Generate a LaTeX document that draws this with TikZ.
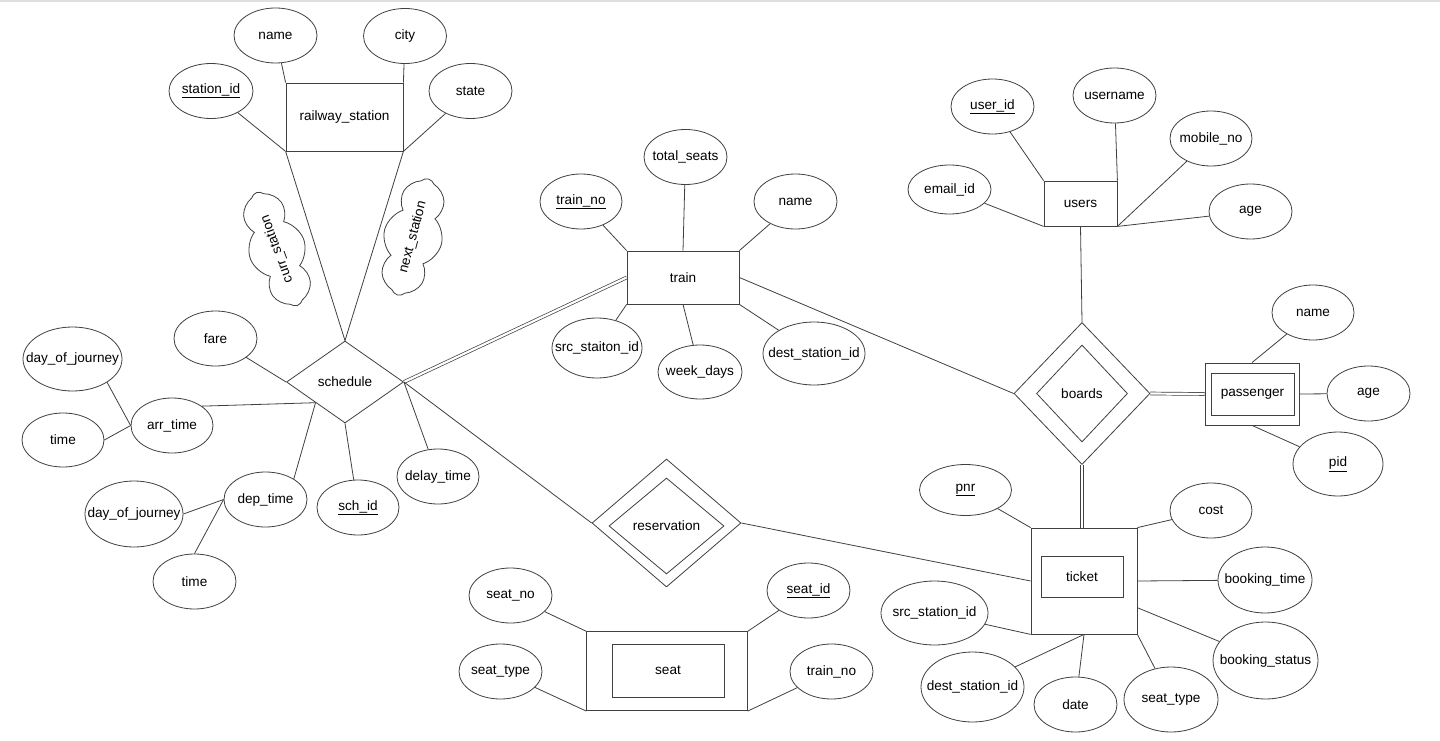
\documentclass[tikz,border=0pt]{standalone}
\usepackage{fontspec}
\setmainfont{Liberation Sans}
\usetikzlibrary{shapes.geometric,shapes.symbols,calc}
\newcommand{\zt}[1]{\makebox[0pt][c]{#1}}
\begin{document}
\begin{tikzpicture}[x=1pt,y=-1pt,
 every node/.style={font=\fontsize{13.6}{16}\selectfont, text=black},
 ln/.style={draw=black!75, line width=0.8pt},
 dbl/.style={draw=black!75, line width=0.7pt, double=white, double distance=2.2pt},
 attr/.style={ellipse, draw=black!75, line width=0.8pt, minimum width=83, minimum height=55, inner sep=0},
 ent/.style={rectangle, draw=black!75, line width=0.8pt, inner sep=0},
 rel/.style={diamond, draw=black!75, line width=0.8pt, inner sep=0},
 cl/.style={cloud, draw=black!75, line width=0.8pt, cloud puffs=8, cloud puff arc=115, aspect=2.6, inner sep=0, minimum width=120, minimum height=46}]
\useasboundingbox (0,0) rectangle (1440,741);
\fill[white] (0,0) rectangle (1440,741);
\draw[gray!25, line width=2pt] (0,1) -- (1440,1);

% railway station
\node[ent, minimum width=117, minimum height=68] (rs) at (344.5,117) {railway\_station};
\node[attr] (rsname) at (275.5,35.5) {\zt{name}};
\node[attr] (rscity) at (405,36) {\zt{city}};
\node[attr, minimum width=84] (rsid) at (211,91) {\zt{\underline{station\_id}}};
\node[attr] (rsstate) at (470.5,91) {\zt{state}};

% schedule
\node[rel, minimum width=117, minimum height=82] (sch) at (345,382) {schedule};
\coordinate (schLL) at ($(sch.west)!0.5!(sch.south)$);
\node[attr] (fare) at (215.5,338.5) {\zt{fare}};
\node[attr, minimum width=99, minimum height=64] (doj1) at (72.5,359) {\zt{day\_of\_journey}};
\node[attr, minimum width=82, minimum height=54] (time1) at (63,440) {\zt{time}};
\node[attr, minimum width=82] (arr) at (172,425.5) {\zt{arr\_time}};
\node[attr, minimum width=98, minimum height=66] (doj2) at (134,514) {\zt{day\_of\_journey}};
\node[attr] (dep) at (265.5,499.5) {\zt{dep\_time}};
\node[attr] (time2) at (194.5,581.5) {\zt{time}};
\node[attr, minimum width=82] (schid) at (358,507.5) {\zt{\underline{sch\_id}}};
\node[attr, minimum width=82] (delay) at (438,476.5) {\zt{delay\_time}};

% clouds
\node[cl, rotate=110] (curr) at (277,249) {curr\_station};
\node[cl, rotate=75] (next) at (413,237) {next\_station};

% train
\node[ent, minimum width=112, minimum height=53] (train) at (683,277.5) {train};
\node[attr] (tseats) at (685.5,157) {\zt{total\_seats}};
\node[attr, minimum width=82] (tno) at (581,201.5) {\zt{\underline{train\_no}}};
\node[attr] (tname) at (795.5,201.5) {\zt{name}};
\node[attr, minimum width=90, minimum height=60] (tsrc) at (597,348) {\zt{src\_staiton\_id}};
\node[attr, minimum width=84, minimum height=54] (twd) at (700,372) {\zt{week\_days}};
\node[attr, minimum width=102, minimum height=63] (tdest) at (814,353.5) {\zt{dest\_station\_id}};

% users
\node[ent, minimum width=73, minimum height=45] (users) at (1080.5,203.5) {users};
\node[attr] (uid) at (992.5,106.5) {\zt{\underline{user\_id}}};
\node[attr] (uname) at (1114.5,95.5) {\zt{username}};
\node[attr, minimum width=82] (umob) at (1211,138.5) {\zt{mobile\_no}};
\node[attr, minimum height=49] (uemail) at (949.5,189.5) {\zt{email\_id}};
\node[attr] (uage) at (1250.5,211.5) {\zt{age}};

% boards
\node[rel, minimum width=136, minimum height=142] (boards) at (1082,393.5) {};
\node[rel, minimum width=91, minimum height=97] (boardsin) at (1082,393.5) {boards};

% passenger
\node[ent, minimum width=94, minimum height=62] (pass) at (1252,394) {};
\node[ent, minimum width=83, minimum height=42] (passin) at (1252.5,394) {passenger};
\node[attr, minimum width=82] (pname) at (1313,312.5) {\zt{name}};
\node[attr] (page) at (1368.5,393.5) {\zt{age}};
\node[attr, minimum width=90, minimum height=64] (pid) at (1338,464) {\zt{\underline{pid}}};

% ticket
\node[ent, minimum width=106, minimum height=106] (tk) at (1084,581) {};
\node[ent, minimum width=82, minimum height=41] (tkin) at (1082,576.5) {ticket};
\node[attr, minimum width=92, minimum height=51] (pnr) at (965.5,490) {\zt{\underline{pnr}}};
\node[attr, minimum width=82] (cost) at (1211,510.5) {\zt{cost}};
\node[attr, minimum width=94, minimum height=66] (btime) at (1265,580) {\zt{booking\_time}};
\node[attr, minimum width=105, minimum height=77] (bstatus) at (1265.5,660.5) {\zt{booking\_status}};
\node[attr, minimum width=94, minimum height=65] (tkseat) at (1171,699.5) {\zt{seat\_type}};
\node[attr] (tkdate) at (1075.5,704.5) {\zt{date}};
\node[attr, minimum width=103, minimum height=70] (tkdest) at (972.5,687) {\zt{dest\_station\_id}};
\node[attr, minimum width=107, minimum height=64] (tksrc) at (934.5,613) {\zt{src\_station\_id}};

% reservation
\node[rel, minimum width=149, minimum height=128] (res) at (666.5,523) {};
\node[rel, minimum width=115, minimum height=96] (resin) at (666.5,526) {reservation};

% seat
\node[ent, minimum width=160.6, minimum height=79] (seat) at (667,671.2) {};
\node[ent, minimum width=112, minimum height=53] (seatin) at (668,670.5) {seat};
\node[attr] (sno) at (510.5,595.5) {\zt{seat\_no}};
\node[attr] (sid) at (808.5,590.5) {\zt{\underline{seat\_id}}};
\node[attr] (stype) at (500.5,671.5) {\zt{seat\_type}};
\node[attr] (stno) at (831.5,671.5) {\zt{train\_no}};

% connectors: railway station
\draw[ln] (rsname) -- (rs.north west);
\draw[ln] (rscity) -- (rs.north east);
\draw[ln] (rsid) -- (rs.south west);
\draw[ln] (rsstate) -- (rs.south east);
\draw[ln] (rs.south west) -- (sch.north);
\draw[ln] (rs.south east) -- (sch.north);

% schedule
\draw[ln] (fare) -- (sch.west);
\draw[ln] (arr.33) -- (schLL);
\draw[ln] (dep.36) -- (schLL);
\draw[ln] (doj1.-34) -- (arr.west);
\draw[ln] (time1.east) -- (arr.west);
\draw[ln] (doj2.east) -- (dep.west);
\draw[ln] (time2.north) -- (dep.west);
\draw[ln] (sch.south) -- (schid);
\draw[ln] (sch.east) -- (delay);
\draw[dbl] (sch.east) -- (train.west);
\draw[ln] (sch.east) -- (res.west);

% train
\draw[ln] (tno) -- (train.north west);
\draw[ln] (tseats) -- (train.north);
\draw[ln] (tname) -- (train.north east);
\draw[ln] (tsrc) -- (train.south west);
\draw[ln] (train.south) -- (twd);
\draw[ln] (train.south east) -- (tdest);
\draw[ln] (train.east) -- (boards.west);

% users
\draw[ln] (uid) -- (users.north west);
\draw[ln] (uname) -- (users.north east);
\draw[ln] (umob) -- (users.south east);
\draw[ln] (uage) -- (users.south east);
\draw[ln] (uemail) -- (users.south west);
\draw[ln] (users.south) -- (boards.north);

% boards / passenger / ticket
\draw[dbl] (boards.east) -- (pass.west);
\draw[dbl] (boards.south) -- (boards.south |- tk.north);
\draw[ln] (pname) -- (pass.north);
\draw[ln] (page) -- (pass.east);
\draw[ln] (pass.south) -- (pid);

\draw[ln] (pnr) -- (tk.north west);
\draw[ln] (cost) -- (tk.north east);
\draw[ln] (tk.east) -- (btime);
\draw[ln] ($(tk.east)!0.5!(tk.south east)$) -- (bstatus);
\draw[ln] (tk.south east) -- (tkseat);
\draw[ln] (tk.south) -- (tkdate);
\draw[ln] (tk.south) -- (tkdest);
\draw[ln] (tksrc) -- (tk.south west);

% reservation / seat
\draw[ln] (res.east) -- (tk.west);
\draw[dbl] (res.south) -- (res.south |- seat.north);
\draw[ln] (sno) -- (seat.north west);
\draw[ln] (sid) -- (seat.north east);
\draw[ln] (stype) -- (seat.south west);
\draw[ln] (stno) -- (seat.south east);
\end{tikzpicture}
\end{document}
